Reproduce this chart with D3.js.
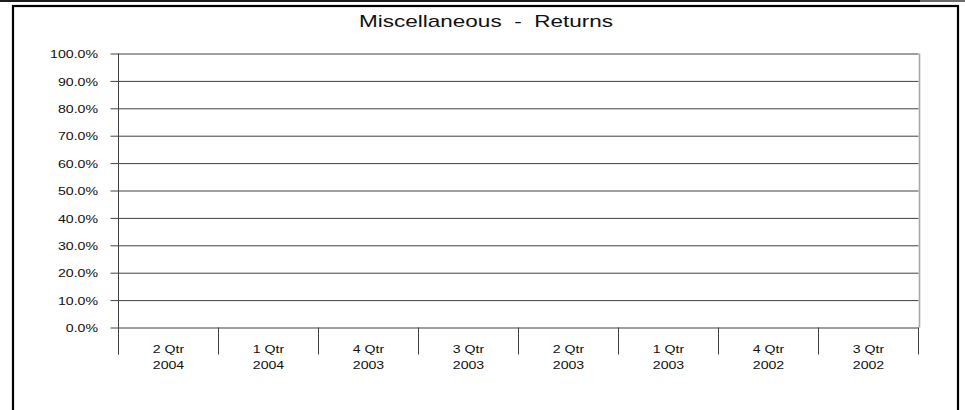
<!DOCTYPE html>
<html>
<head>
<meta charset="utf-8">
<script src="https://cdn.jsdelivr.net/npm/d3@7/dist/d3.min.js"></script>
<style>
  html, body { margin: 0; padding: 0; background: #fff; }
  svg { display: block; }
  text { font-family: "Liberation Sans", Arial, sans-serif; fill: #111; font-weight: normal; }
</style>
</head>
<body>
<svg id="chart" width="965" height="410"></svg>
<script>
// ---- data ----
const title = "Miscellaneous  -  Returns";
const quarters = ["2 Qtr", "1 Qtr", "4 Qtr", "3 Qtr", "2 Qtr", "1 Qtr", "4 Qtr", "3 Qtr"];
const years = ["2004", "2004", "2003", "2003", "2003", "2003", "2002", "2002"];
const returnsValues = [null, null, null, null, null, null, null, null]; // no data plotted
const yTicks = [0, 0.1, 0.2, 0.3, 0.4, 0.5, 0.6, 0.7, 0.8, 0.9, 1.0];

// ---- layout ----
const W = 965, H = 410;
const plot = { left: 118.5, right: 918.5, top: 53.5, bottom: 327.5 };
const SX = 1.22; // horizontal stretch of the raster fonts

const svg = d3.select("#chart");

// top strip
svg.append("rect").attr("x", 0).attr("y", 0).attr("width", 920).attr("height", 2).attr("fill", "#1c1c1c");
svg.append("rect").attr("x", 920).attr("y", 0).attr("width", 45).attr("height", 2).attr("fill", "#6a6a6a");
// outer frame
svg.append("rect").attr("x", 13).attr("y", 6).attr("width", 945).attr("height", 420)
  .attr("fill", "none").attr("stroke", "#000").attr("stroke-width", 2.2);

// title
svg.append("text")
  .attr("x", 359).attr("y", 26.5)
  .attr("font-size", 17)
  .attr("textLength", 254).attr("lengthAdjust", "spacingAndGlyphs")
  .style("white-space", "pre")
  .attr("xml:space", "preserve")
  .text(title);

// scales
const x = d3.scaleBand().domain(d3.range(quarters.length)).range([plot.left, plot.right]).padding(0);
const y = d3.scaleLinear().domain([0, 1]).range([plot.bottom, plot.top]);

// y axis with gridlines
const gridLen = plot.right - plot.left + 8;
const yAxis = d3.axisLeft(y).tickValues(yTicks).tickFormat(d3.format(".1%"))
  .tickSize(gridLen).tickPadding(12.5);
const gy = svg.append("g").attr("transform", `translate(${plot.right},0)`).call(yAxis);
gy.select(".domain").remove();
gy.selectAll(".tick line").attr("stroke", "#404040").attr("stroke-width", 1);
gy.selectAll(".tick text")
  .attr("font-size", 11.6)
  .attr("font-family", "Liberation Sans, Arial, sans-serif")
  .attr("fill", "#111")
  .attr("transform", function() {
    const xx = +d3.select(this).attr("x");
    return `translate(${xx},0) scale(${SX},1)`;
  })
  .attr("x", 0).attr("dy", "0.36em");

// right edge (gray)
svg.append("line").attr("x1", plot.right + 1).attr("x2", plot.right + 1)
  .attr("y1", plot.top).attr("y2", plot.bottom)
  .attr("stroke", "#a8a8a8").attr("stroke-width", 1.6);

// left axis line
svg.append("line").attr("x1", plot.left).attr("x2", plot.left)
  .attr("y1", plot.top).attr("y2", plot.bottom + 27)
  .attr("stroke", "#404040").attr("stroke-width", 1);

// category boundary ticks
const bounds = d3.range(quarters.length + 1).map(i => i < quarters.length ? x(i) : x(i - 1) + x.bandwidth());
svg.append("g").selectAll("line").data(bounds).join("line")
  .attr("x1", d => d).attr("x2", d => d)
  .attr("y1", plot.bottom).attr("y2", plot.bottom + 27)
  .attr("stroke", "#404040").attr("stroke-width", 1);

// category labels
const lab = svg.append("g").selectAll("g").data(quarters).join("g")
  .attr("transform", (d, i) => `translate(${x(i) + x.bandwidth() / 2},0)`);
lab.append("text")
  .attr("transform", `translate(0,353) scale(${SX},1)`)
  .attr("text-anchor", "middle").attr("font-size", 11.6)
  .text(d => d);
lab.append("text")
  .attr("transform", `translate(0,369) scale(${SX},1)`)
  .attr("text-anchor", "middle").attr("font-size", 11.6)
  .text((d, i) => years[i]);

// series (empty - no values to plot)
svg.append("g").selectAll("rect")
  .data(returnsValues.map((v, i) => ({ v, i })).filter(d => d.v != null))
  .join("rect")
  .attr("x", d => x(d.i) + x.bandwidth() * 0.25)
  .attr("width", x.bandwidth() * 0.5)
  .attr("y", d => y(d.v))
  .attr("height", d => y(0) - y(d.v))
  .attr("fill", "#336699");
</script>
</body>
</html>
